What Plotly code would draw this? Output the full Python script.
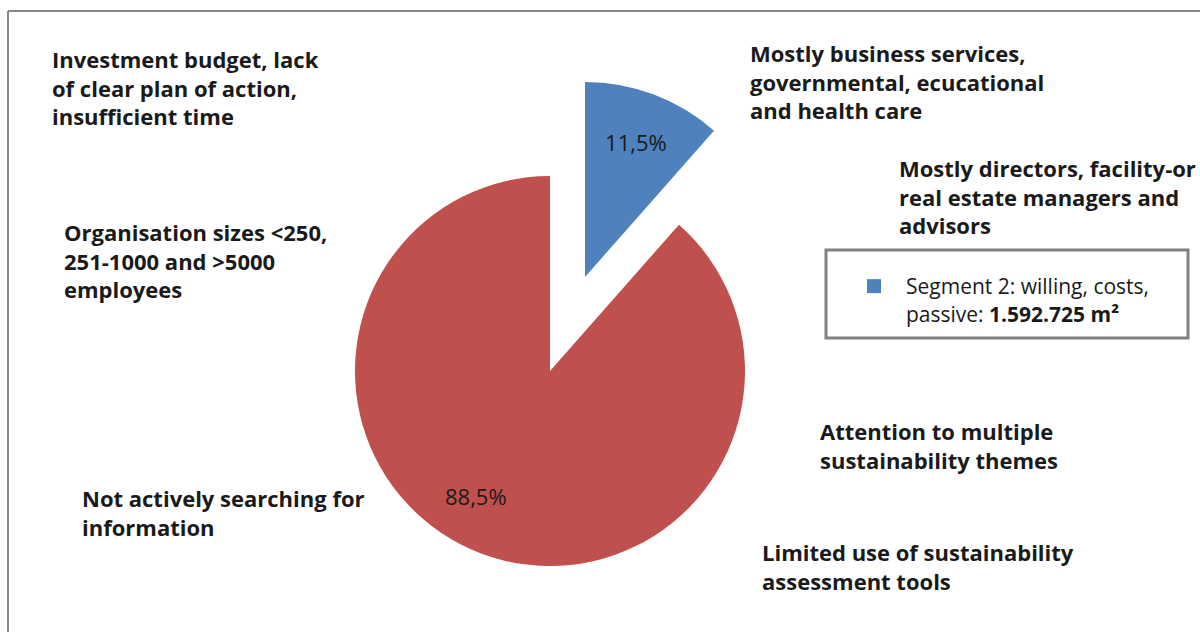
import plotly.graph_objects as go

# Segment shares (percent of floor area)
segments = ["Segment 2", "Other"]
shares = [11.5, 88.5]
seg_colors = ["#4F81BD", "#C0504D"]
legend_label = "Segment 2: willing, costs,<br>passive: <b>1.592.725 m²</b>"

notes = [
    "Investment budget, lack<br>of clear plan of action,<br>insufficient time",
    "Organisation sizes <250,<br>251-1000 and >5000<br>employees",
    "Not actively searching for<br>information",
    "Mostly business services,<br>governmental, ecucational<br>and health care",
    "Mostly directors, facility-or<br>real estate managers and<br>advisors",
    "Attention to multiple<br>sustainability themes",
    "Limited use of sustainability<br>assessment tools",
]
# (left x, centre y) in pixels for each note
note_pos = [(50, 88), (62, 260), (80, 512), (748, 81), (897, 196), (818, 445), (760, 566)]

W, H = 1200, 632
CLEAR = "rgba(0,0,0,0)"
FONT = "Open Sans, Noto Sans, sans-serif"


def dom(cx, cy, r):
    return dict(x=[(cx - r) / W, (cx + r) / W], y=[1 - (cy + r) / H, 1 - (cy - r) / H])


def pct(v):
    return f"{v / sum(shares) * 100:.1f}%".replace(".", ",")


common = dict(
    labels=segments, values=shares, sort=False, direction="clockwise", rotation=0,
    textposition="inside", insidetextorientation="horizontal",
    textfont=dict(family=FONT, size=22, color="#1a1a1a"),
    showlegend=False, hoverinfo="label+percent",
)

fig = go.Figure()
# main body of the pie
fig.add_trace(go.Pie(
    **common,
    marker=dict(colors=[CLEAR, seg_colors[1]], line=dict(width=0)),
    texttemplate=["", ""],
    domain=dom(550, 371, 195),
))
# exploded segment
fig.add_trace(go.Pie(
    **common,
    marker=dict(colors=[seg_colors[0], CLEAR], line=dict(width=0)),
    texttemplate=["%{percent:.1%}", ""],
    domain=dom(585, 277, 195),
))
# legend entry
fig.add_trace(go.Scatter(
    x=[None], y=[None], mode="markers", name=legend_label,
    marker=dict(symbol="square", size=14, color=seg_colors[0]),
    showlegend=True,
))

# value label of the large slice
fig.add_annotation(
    text=pct(shares[1]), x=476 / W, y=1 - 496 / H, xref="paper", yref="paper",
    xanchor="center", yanchor="middle", showarrow=False,
    font=dict(family=FONT, size=22, color="#1a1a1a"),
)

for txt, (x, y) in zip(notes, note_pos):
    fig.add_annotation(
        text=f"<b>{txt}</b>", x=x / W, y=1 - y / H, xref="paper", yref="paper",
        xanchor="left", yanchor="middle", align="left", showarrow=False,
        font=dict(family=FONT, size=22, color="#1a1a1a"),
    )

# chart-area frame (top and left edges)
fig.add_shape(type="line", xref="paper", yref="paper", x0=8 / W, x1=1.0, y0=1 - 11 / H, y1=1 - 11 / H,
              line=dict(color="#878787", width=2))
fig.add_shape(type="line", xref="paper", yref="paper", x0=8 / W, x1=8 / W, y0=0, y1=1 - 11 / H,
              line=dict(color="#878787", width=2))
# legend frame
fig.add_shape(type="rect", xref="paper", yref="paper",
              x0=826 / W, x1=1188 / W, y0=1 - 338 / H, y1=1 - 250 / H,
              line=dict(color="#808080", width=3), fillcolor="rgba(0,0,0,0)")

fig.update_layout(
    width=W, height=H, margin=dict(l=0, r=0, t=0, b=0),
    paper_bgcolor="white", plot_bgcolor="white",
    separators=",.",
    xaxis=dict(visible=False), yaxis=dict(visible=False),
    showlegend=True,
    legend=dict(
        x=842 / W, y=1 - 266 / H, xanchor="left", yanchor="top",
        borderwidth=0, bgcolor="rgba(0,0,0,0)", valign="top",
        font=dict(family=FONT, size=21, color="#1a1a1a"),
        itemwidth=54,
    ),
)

fig.write_html("out.html")
